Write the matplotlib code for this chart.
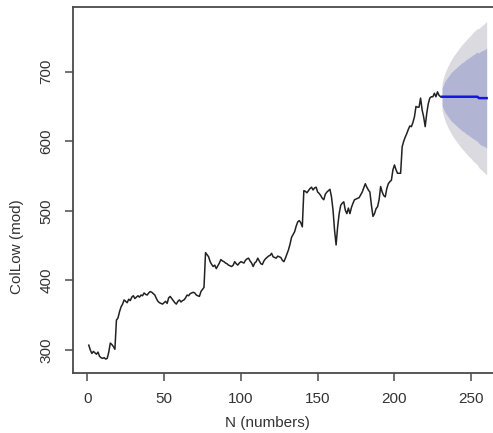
import matplotlib
matplotlib.use('Agg')
import matplotlib.pyplot as plt
import numpy as np

# observed series, t = 1..230
obs = [
    307, 300, 295, 298, 296, 294, 297, 291, 289, 288,
    289, 287, 288, 297, 310, 308, 305, 301, 343, 346,
    355, 362, 366, 372, 370, 368, 373, 371, 376, 378,
    374, 376, 378, 376, 379, 378, 382, 380, 379, 382,
    384, 383, 381, 379, 374, 370, 368, 367, 366, 368,
    370, 367, 375, 377, 374, 371, 368, 366, 370, 372,
    369, 371, 372, 375, 379, 378, 381, 382, 383, 382,
    379, 378, 377, 384, 387, 390, 440, 437, 434, 427,
    423, 420, 422, 417, 421, 425, 430, 428, 427, 425,
    424, 422, 421, 420, 422, 427, 424, 422, 425, 427,
    426, 425, 429, 431, 432, 428, 425, 420, 425, 427,
    432, 428, 424, 423, 428, 431, 433, 435, 436, 439,
    434, 433, 432, 435, 434, 433, 429, 427, 432, 438,
    444, 452, 462, 466, 470, 478, 484, 486, 483, 477,
    529, 528, 526, 529, 532, 534, 530, 533, 534, 527,
    525, 522, 518, 516, 524, 527, 529, 531, 520, 501,
    472, 451, 477, 496, 508, 511, 513, 501, 496, 504,
    496, 505, 511, 516, 517, 518, 519, 523, 527, 533,
    539, 534, 530, 527, 508, 492, 496, 503, 506, 516,
    535, 527, 522, 520, 532, 539, 542, 544, 559, 566,
    559, 554, 554, 554, 592, 600, 606, 611, 617, 622,
    621, 627, 635, 650, 649, 649, 662, 645, 635, 621,
    640, 654, 662, 664, 664, 669, 664, 671, 666, 664,
]

# forecast, t = 231..260
fc_mean = [664] * 24 + [662] * 6
lo80 = [651, 646, 641, 638, 635, 632, 629, 627, 625, 623,
        621, 619, 617, 615, 614, 612, 610, 609, 607, 606,
        604, 603, 601, 600, 597, 595, 594, 593, 592, 590]
hi80 = [677, 682, 687, 690, 693, 696, 699, 701, 703, 705,
        707, 709, 711, 713, 714, 716, 718, 719, 721, 722,
        724, 725, 727, 728, 727, 729, 730, 731, 732, 734]
lo95 = [644, 636, 629, 624, 619, 615, 611, 607, 604, 601,
        598, 595, 592, 589, 587, 584, 582, 579, 577, 575,
        572, 570, 568, 566, 562, 560, 558, 556, 554, 552]
hi95 = [684, 692, 699, 704, 709, 713, 717, 721, 724, 727,
        730, 733, 736, 739, 741, 744, 746, 749, 751, 753,
        756, 758, 760, 762, 762, 764, 766, 768, 770, 772]

t_obs = np.arange(1, len(obs) + 1)
t_fc = np.arange(len(obs) + 1, len(obs) + len(fc_mean) + 1)

plt.rcParams['font.family'] = ['Liberation Sans', 'DejaVu Sans']

fig = plt.figure(figsize=(4.93, 4.33), dpi=100)
ax = fig.add_axes([0.148, 0.1386, 0.8715, 0.8453])

ax.fill_between(t_fc, lo95, hi95, color='#DADAE0', lw=0)
ax.fill_between(t_fc, lo80, hi80, color='#B1B5D3', lw=0)
ax.plot(t_obs, obs, color='#222222', lw=1.1)
ax.plot(t_fc, fc_mean, color='#1515E0', lw=1.8)

ax.set_xlim(-9.3, 270.4)
ax.set_ylim(267, 793)
ax.set_xticks([0, 50, 100, 150, 200, 250])
ax.set_yticks([300, 400, 500, 600, 700])
ax.set_yticklabels(['300', '400', '500', '600', '700'], rotation=90, va='center')

for side in ['left', 'top', 'bottom']:
    ax.spines[side].set_color('#4a4a4a')
    ax.spines[side].set_linewidth(1.3)
ax.spines['right'].set_visible(False)
ax.tick_params(length=6, width=1.1, color='#4a4a4a', labelcolor='#333333',
               labelsize=11, pad=8)

ax.set_xlabel('N (numbers)', fontsize=11, color='#333333')
ax.set_ylabel('ColLow (mod)', fontsize=11, color='#333333')
ax.xaxis.set_label_coords(0.453, -0.117)
ax.yaxis.set_label_coords(-0.114, 0.344)

fig.savefig('out.png', dpi=100)
